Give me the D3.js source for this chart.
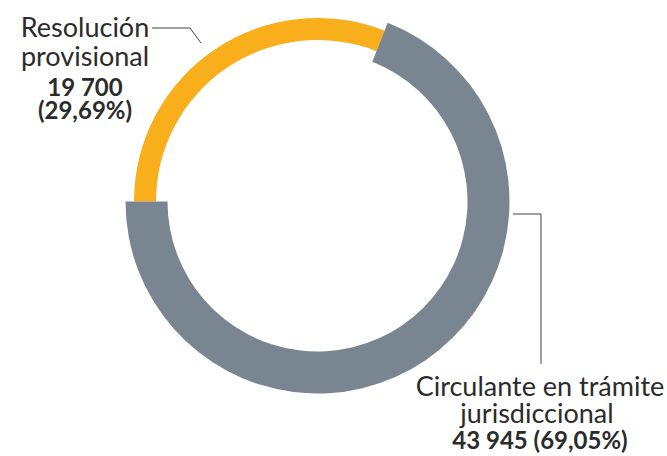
<!DOCTYPE html>
<html>
<head>
<meta charset="utf-8">
<script src="https://cdn.jsdelivr.net/npm/d3@7"></script>
<style>
  body { margin: 0; background: #fff; }
  text { font-family: Lato, "Open Sans", sans-serif; fill: #2b2b2b; }
</style>
</head>
<body>
<div id="chart"></div>
<script>
// data
const categories = ["Resolución provisional", "Circulante en trámite jurisdiccional"];
const values = [19700, 43945];
const percents = ["29,69%", "69,05%"];
const colors = ["#f9ae1b", "#798691"];

const width = 667, height = 456;
const cx = 317.5, cy = 201.5;

let svg = d3.select("#chart").append("svg")
    .attr("width", width)
    .attr("height", height);

let g = svg.append("g")
    .attr("transform", `translate(${cx}, ${cy})`);

let pie = d3.pie()
    .sort(null)
    .startAngle(-Math.PI / 2)
    .endAngle(3 * Math.PI / 2);

let arcs = pie(values);

// orange ring is thinner than the gray one
let rings = [
    {inner: 161.5, outer: 183.5},
    {inner: 150, outer: 192}
];

g.selectAll("path")
    .data(arcs)
    .enter()
    .append("path")
    .attr("d", (d, i) => d3.arc().innerRadius(rings[i].inner).outerRadius(rings[i].outer)(d))
    .attr("fill", (d, i) => colors[i]);

// leader lines
svg.append("path")
    .attr("d", "M152,28 H190 L201,43")
    .attr("fill", "none")
    .attr("stroke", "#444")
    .attr("stroke-width", 1);

svg.append("path")
    .attr("d", "M513,214 H541 V364")
    .attr("fill", "none")
    .attr("stroke", "#444")
    .attr("stroke-width", 1);

// labels
let fmt = v => d3.format(",")(v).replace(",", " ");

let left = svg.append("text")
    .attr("text-anchor", "middle")
    .attr("font-size", 27);
left.append("tspan").attr("x", 85).attr("y", 37).text("Resolución");
left.append("tspan").attr("x", 85).attr("y", 66).text("provisional");
left.append("tspan").attr("x", 85).attr("y", 96).attr("font-weight", "bold").attr("font-size", 24).text(fmt(values[0]));
left.append("tspan").attr("x", 85).attr("y", 119).attr("font-weight", "bold").attr("font-size", 24).text(`(${percents[0]})`);

let right = svg.append("text")
    .attr("text-anchor", "middle")
    .attr("font-size", 27);
right.append("tspan").attr("x", 540).attr("y", 396).text("Circulante en trámite");
right.append("tspan").attr("x", 537).attr("y", 423).text("jurisdiccional");
right.append("tspan").attr("x", 540).attr("y", 449).attr("font-weight", "bold").attr("font-size", 24).text(`${fmt(values[1])} (${percents[1]})`);
</script>
</body>
</html>
